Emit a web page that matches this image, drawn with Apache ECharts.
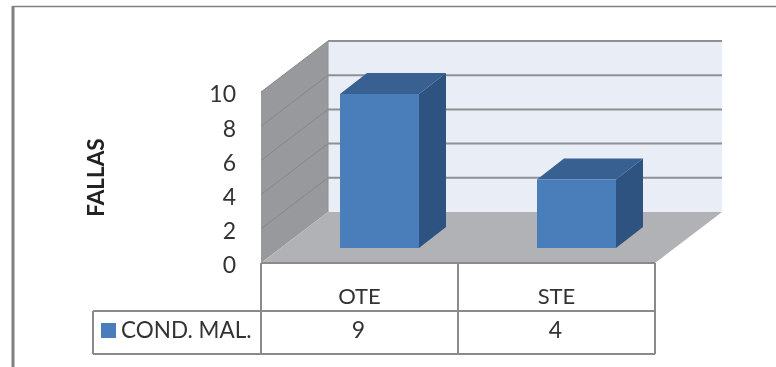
<!DOCTYPE html>
<html><head><meta charset="utf-8">
<style>html,body{margin:0;padding:0;background:#fff}#c{width:776px;height:367px}</style>
<script src="https://cdn.jsdelivr.net/npm/echarts@6/dist/echarts.min.js"></script>
</head><body><div id="c"></div>
<script>
const categories = ['OTE', 'STE'];
const seriesName = 'COND. MAL.';
const values = [9, 4];
const yTicks = [0, 2, 4, 6, 8, 10];
const yAxisName = 'FALLAS';

const FONT = 'Lato';
const DEPTH = [67, -51];
const BAR_DEPTH = [27, -21];
const BAR_SHIFT = [20, -15];
const BAR_W = 79;
const LINE = '#8a8a8a';

const chart = echarts.init(document.getElementById('c'));

function poly(points, fill, z2) {
  return { type: 'polygon', shape: { points }, style: { fill, stroke: 'none' }, z2: z2 || 0 };
}
function seg(a, b, color, w, z2) {
  return { type: 'line', shape: { x1: a[0], y1: a[1], x2: b[0], y2: b[1] }, style: { stroke: color, lineWidth: w, fill: 'none' }, z2: z2 || 0 };
}
function add(p, d) { return [p[0] + d[0], p[1] + d[1]]; }

function renderScene(params, api) {
  const r = params.coordSys;
  const x0 = r.x, x1 = r.x + r.width, yTop = r.y, yBot = r.y + r.height;
  const kids = [
    poly([[x0 + DEPTH[0], yTop + DEPTH[1]], [x1 + DEPTH[0], yTop + DEPTH[1]], [x1 + DEPTH[0], yBot + DEPTH[1]], [x0 + DEPTH[0], yBot + DEPTH[1]]], '#e9edf6'),
    poly([[x0, yTop], [x0 + DEPTH[0], yTop + DEPTH[1]], [x0 + DEPTH[0], yBot + DEPTH[1]], [x0, yBot]], '#97999c'),
    poly([[x0, yBot], [x1, yBot], [x1 + DEPTH[0], yBot + DEPTH[1]], [x0 + DEPTH[0], yBot + DEPTH[1]]], '#b0b2b5')
  ];
  yTicks.forEach(function (t) {
    const y = api.coord([0, t])[1];
    const a = [x0, y], b = add(a, DEPTH), c = [x1 + DEPTH[0], y + DEPTH[1]];
    if (t > 0) {
      kids.push(seg(a, b, '#85878a', 1));
      kids.push(seg(b, c, '#8f9092', 2));
    }
  });
  kids.push(seg([x0 + DEPTH[0], yTop + DEPTH[1]], [x0 + DEPTH[0], yBot + DEPTH[1]], '#8c8e91', 1));
  return { type: 'group', children: kids };
}

function renderBar(params, api) {
  const i = api.value(0), v = api.value(1);
  const cx = api.coord([i, 0])[0] + BAR_SHIFT[0];
  const base = api.coord([i, 0])[1] + BAR_SHIFT[1];
  const top = api.coord([i, v])[1] + BAR_SHIFT[1];
  const l = cx - BAR_W / 2, rr = cx + BAR_W / 2;
  return { type: 'group', children: [
    poly([[rr, top], [rr + BAR_DEPTH[0], top + BAR_DEPTH[1]], [rr + BAR_DEPTH[0], base + BAR_DEPTH[1]], [rr, base]], '#2f5380'),
    poly([[l, top], [l + BAR_DEPTH[0], top + BAR_DEPTH[1]], [rr + BAR_DEPTH[0], top + BAR_DEPTH[1]], [rr, top]], '#386192'),
    poly([[l, top], [rr, top], [rr, base], [l, base]], '#4a7ebb')
  ]};
}

function renderTable(params, api) {
  const r = params.coordSys;
  const x0 = r.x, x1 = r.x + r.width, yBot = r.y + r.height;
  const rowY = yBot + 48, endY = yBot + 91, legendX = x0 - 168;
  const midX = x0 + r.width / categories.length;
  const kids = [
    seg([x0, yBot], [x1, yBot], LINE, 2),
    seg([legendX, rowY], [x1, rowY], LINE, 2),
    seg([legendX, endY], [x1, endY], LINE, 2),
    seg([x0, yBot], [x0, endY], LINE, 2),
    seg([midX, yBot], [midX, endY], LINE, 2),
    seg([x1, yBot], [x1, endY], LINE, 2),
    seg([legendX, rowY], [legendX, endY], LINE, 2)
  ];
  return { type: 'group', children: kids };
}

function renderCell(params, api) {
  const i = api.value(0), v = api.value(1);
  const x = api.coord([i, 0])[0] - 1, y = api.coord([i, 0])[1] + 68;
  return { type: 'text', style: { text: String(v), x, y, align: 'center', verticalAlign: 'middle', font: '23px ' + FONT, fill: '#333' } };
}

chart.setOption({
  animation: false,
  backgroundColor: '#fff',
  grid: { left: 261, right: 121, top: 92, bottom: 104 },
  graphic: [
    { type: 'line', shape: { x1: 13, y1: 6.5, x2: 776, y2: 6.5 }, style: { stroke: '#808080', lineWidth: 1.5 } },
    { type: 'line', shape: { x1: 13, y1: 6, x2: 13, y2: 367 }, style: { stroke: '#808080', lineWidth: 3 } }
  ],
  legend: {
    left: 101, top: 319, padding: 0, orient: 'horizontal', icon: 'rect', itemWidth: 15, itemHeight: 15, itemGap: 6,
    data: [seriesName],
    textStyle: { fontFamily: FONT, fontSize: 22.5, color: '#333', padding: [0, 0, 0, 0] },
    selectedMode: false
  },
  xAxis: {
    type: 'category', data: categories,
    axisLine: { show: false }, axisTick: { show: false }, splitLine: { show: false },
    axisLabel: { margin: 23, fontFamily: FONT, fontSize: 22, color: '#333' }
  },
  yAxis: {
    type: 'value', min: 0, max: 10, interval: 2,
    name: yAxisName, nameLocation: 'middle', nameGap: 153, nameRotate: 90,
    nameTextStyle: { fontFamily: FONT, fontSize: 22.5, fontWeight: 'bold', color: '#222' },
    axisLine: { show: false }, axisTick: { show: false }, splitLine: { show: false },
    axisLabel: {
      margin: 25, formatter: '{t|{value}}',
      rich: { t: { fontFamily: FONT, fontSize: 23, color: '#333', padding: [6, 0, 0, 0] } }
    }
  },
  series: [
    { name: 'scene', type: 'custom', z: 1, silent: true, renderItem: renderScene, data: [[0, 0]], encode: { x: 0, y: 1 } },
    { name: 'table', type: 'custom', z: 1, silent: true, renderItem: renderTable, data: [[0, 0]], encode: { x: 0, y: 1 } },
    { name: seriesName, type: 'custom', z: 2, renderItem: renderBar, itemStyle: { color: '#4a7ebb' },
      data: values.map(function (v, i) { return [i, v]; }), encode: { x: 0, y: 1 } },
    { name: 'cells', type: 'custom', z: 3, silent: true, renderItem: renderCell,
      data: values.map(function (v, i) { return [i, v]; }), encode: { x: 0, y: 1 } }
  ]
});
</script></body></html>
